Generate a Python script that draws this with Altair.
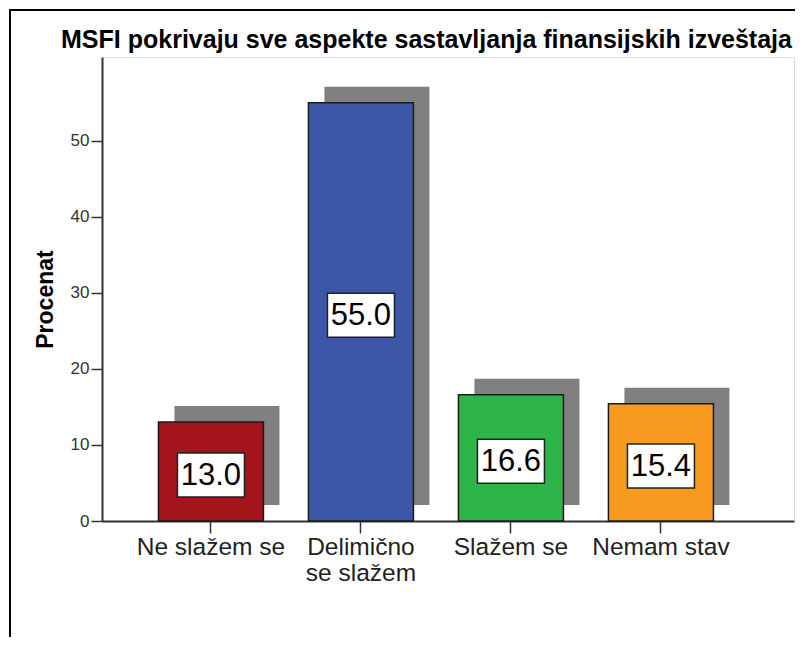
import altair as alt
import pandas as pd

# ---- data ----
categories = ["Ne slažem se", "Delimično se slažem", "Slažem se", "Nemam stav"]
values = [13.0, 55.0, 16.6, 15.4]
colors = ["#a3151a", "#3c56a8", "#2eb54a", "#f79a1f"]
y_ticks = [0, 10, 20, 30, 40, 50]
title_text = "MSFI pokrivaju sve aspekte sastavljanja finansijskih izveštaja"
y_title = "Procenat"

df = pd.DataFrame({"kategorija": categories, "procenat": values})
df["sredina"] = df["procenat"] / 2
df["oznaka"] = df["procenat"].map(lambda v: f"{v:.1f}")

W, H = 692, 464
FONT = "Liberation Sans"

label_expr = ("datum.label == 'Delimično se slažem' ? "
              "['Delimično', 'se slažem'] : datum.label")

x = alt.X(
    "kategorija:N", sort=categories, title=None,
    scale=alt.Scale(paddingInner=0.3, paddingOuter=0.4567, align=0.412),
    axis=alt.Axis(labelAngle=0, labelFontSize=24.5, labelColor="#222",
                  labelFont=FONT, tickSize=12, tickColor="#333", tickWidth=1.5,
                  domainColor="#333", domainWidth=2, labelPadding=2,
                  labelLineHeight=26, labelLimit=300, labelExpr=label_expr),
)
y_scale = alt.Scale(domain=[0, 61], nice=False, zero=True)
y = alt.Y(
    "procenat:Q", scale=y_scale,
    axis=alt.Axis(values=y_ticks, title=y_title, titleFont=FONT,
                  titleFontSize=23, titleFontWeight="bold", titleColor="black",
                  titleAngle=270, titleAlign="center", titleBaseline="middle",
                  titleX=-57, titleY=242,
                  labelFont=FONT, labelFontSize=17, labelColor="#333",
                  labelPadding=2, tickSize=11, tickColor="#333", tickWidth=1.5,
                  domainColor="#333", domainWidth=2, grid=False),
)

base = alt.Chart(df)

frame = alt.Chart(pd.DataFrame({"a": [0]})).mark_rect(
    filled=False, stroke="black", strokeWidth=2
).encode(
    x=alt.value(-92), x2=alt.value(W + 30),
    y=alt.value(-47), y2=alt.value(H + 200),
)

shadow = base.mark_bar(
    color="#808080", xOffset=16, x2Offset=16, yOffset=-16, y2Offset=-16
).encode(x=x, y=y, y2=alt.datum(0))

bars = base.mark_bar(stroke="#1a1a1a", strokeWidth=1.5).encode(
    x=x, y=y,
    color=alt.Color("kategorija:N", scale=alt.Scale(domain=categories, range=colors),
                    legend=None),
)

boxes = base.mark_bar(
    width=67, fill="white", stroke="#222", strokeWidth=1.5,
    yOffset=-18.5, y2Offset=25.5
).encode(x=x, y=alt.Y("sredina:Q", scale=y_scale), y2="sredina:Q")

labels = base.mark_text(
    font=FONT, fontSize=31, color="black", baseline="middle", dy=4.5
).encode(x=x, y=alt.Y("sredina:Q", scale=y_scale), text="oznaka:N")

chart = alt.layer(frame, shadow, bars, boxes, labels).properties(
    width=W, height=H,
    title=alt.TitleParams(title_text, font=FONT, fontSize=25, fontWeight="bold",
                          color="black", anchor="middle", frame="group",
                          baseline="alphabetic", offset=0, dx=-21.5, dy=64),
    autosize=alt.AutoSizeParams(type="none"),
    padding={"left": 94, "top": 49, "right": 1, "bottom": 116},
).configure_view(
    fill="#f0f0f0", stroke="#7a7a7a", strokeWidth=1
).configure(background="white")

chart.save("out.html", embed_options={"renderer": "svg", "actions": False})
